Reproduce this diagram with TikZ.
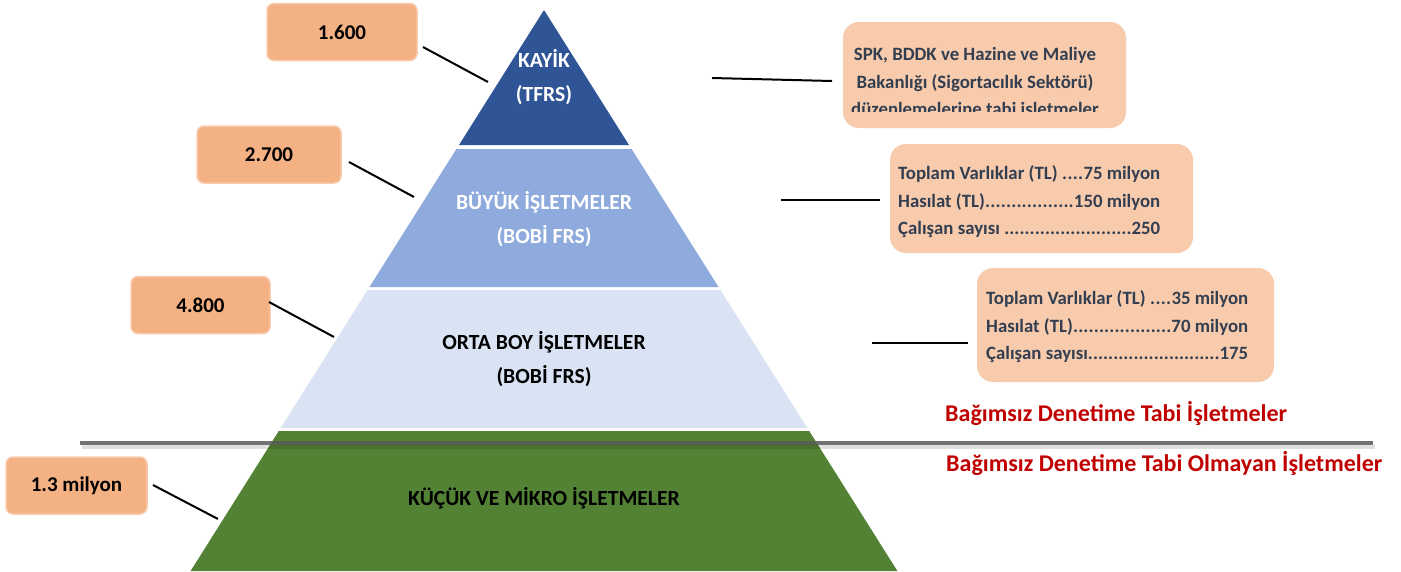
\documentclass[tikz,border=0pt]{standalone}
\usepackage{fontspec}
\setmainfont{Carlito}
\definecolor{kayik}{HTML}{2F5597}
\definecolor{buyuk}{HTML}{8FAADC}
\definecolor{orta}{HTML}{DAE3F3}
\definecolor{kucuk}{HTML}{548235}
\definecolor{sayi}{HTML}{F4B183}
\definecolor{sayikenar}{HTML}{F8CBAD}
\definecolor{bilgi}{HTML}{F8CBAD}
\definecolor{bilgimetin}{HTML}{333F50}
\definecolor{kirmizi}{HTML}{C00000}
\definecolor{ayrac}{HTML}{595959}
\newcommand{\satir}[3]{\hbox to #1{#2\xleaders\hbox{.}\hfill#3}}
\begin{document}
\begin{tikzpicture}[x=1pt,y=-1pt,
  sayikutu/.style={draw=sayikenar,line width=1.5pt,fill=sayi,rounded corners=7pt,minimum height=57pt,font=\fontsize{21}{25}\selectfont\bfseries},
  bilgikutu/.style={fill=bilgi,rounded corners=16pt},
  katyazi/.style={align=center,inner sep=0pt,font=\fontsize{21.6}{34}\selectfont\bfseries},
  bilgiyazi/.style={align=left,inner sep=0pt,text=bilgimetin,font=\fontsize{18.8}{27.5}\selectfont\bfseries},
  kirmiziyazi/.style={anchor=west,inner sep=0pt,text=kirmizi,font=\fontsize{24}{28}\selectfont\bfseries},
  baglanti/.style={line width=2pt}]
\useasboundingbox (0,0) rectangle (1401,571);
%piramit
\fill[kayik] (544,10) -- (629,145) -- (459,145) -- cycle;
\fill[buyuk] (456.4,149) -- (631.6,149) -- (718.5,287) -- (369.5,287) -- cycle;
\fill[orta] (367.6,290) -- (720.4,290) -- (807.3,428) -- (280.7,428) -- cycle;
\fill[kucuk] (278.8,431) -- (809.2,431) -- (897.4,571) -- (190.6,571) -- cycle;
\node[katyazi,text=white] (kayik) at (544,77) {KAYİK\\(TFRS)};
\node[katyazi,text=white] (buyuk) at (544,219) {BÜYÜK İŞLETMELER\\(BOBİ FRS)};
\node[katyazi] (orta) at (544,359) {ORTA BOY İŞLETMELER\\(BOBİ FRS)};
\node[katyazi] (kucuk) at (544,498) {KÜÇÜK VE MİKRO İŞLETMELER};
%ayrac cizgisi
\draw[line width=4pt,black,draw opacity=0.12] (82,447) -- (1375,447);
\draw[line width=4pt,ayrac,draw opacity=0.85] (80,443) -- (1373,443);
%sayilar
\node[sayikutu,minimum width=150pt] (n1600) at (342,32) {1.600};
\node[sayikutu,minimum width=144pt] (n2700) at (269,154.5) {2.700};
\node[sayikutu,minimum width=139pt] (n4800) at (200.5,305) {4.800};
\node[sayikutu,minimum width=141pt] (n13) at (76.5,485.5) {1.3 milyon};
\coordinate (a1600) at (423,47);  \coordinate (p1600) at (488,82);
\coordinate (a2700) at (349,162); \coordinate (p2700) at (414,197);
\coordinate (a4800) at (269,302); \coordinate (p4800) at (334,337);
\coordinate (a13) at (153,485);   \coordinate (p13) at (218,519);
\draw[baglanti] (a1600) -- (p1600);
\draw[baglanti] (a2700) -- (p2700);
\draw[baglanti] (a4800) -- (p4800);
\draw[baglanti] (a13) -- (p13);
%bilgi kutulari
\node[bilgikutu,minimum width=283pt,minimum height=106pt] (bilgi1) at (984.5,75) {};
\node[bilgikutu,minimum width=303pt,minimum height=109pt] (bilgi2) at (1041.5,198.5) {};
\node[bilgikutu,minimum width=297pt,minimum height=114pt] (bilgi3) at (1125.5,325) {};
\begin{scope}
\clip (843,22) rectangle (1126,111);
\node[bilgiyazi,align=center] (metin1) at (975,83) {SPK, BDDK ve Hazine ve Maliye\\Bakanlığı (Sigortacılık Sektörü)\\düzenlemelerine tabi işletmeler};
\end{scope}
\node[bilgiyazi,anchor=west] (metin2) at (898,202) {\satir{262pt}{Toplam Varlıklar (TL) }{75 milyon}\\\satir{262pt}{Hasılat (TL)}{150 milyon}\\\satir{262pt}{Çalışan sayısı }{250}};
\node[bilgiyazi,anchor=west] (metin3) at (986,327) {\satir{262pt}{Toplam Varlıklar (TL) }{35 milyon}\\\satir{262pt}{Hasılat (TL)}{70 milyon}\\\satir{262pt}{Çalışan sayısı}{175}};
\coordinate (b1) at (712,78);  \coordinate (k1) at (832,81);
\coordinate (b2) at (781,200); \coordinate (k2) at (880,200);
\coordinate (b3) at (872,343); \coordinate (k3) at (968,343);
\draw[baglanti] (b1) -- (k1);
\draw[baglanti] (b2) -- (k2);
\draw[baglanti] (b3) -- (k3);
%denetim
\node[kirmiziyazi] (tabi) at (945,413) {Bağımsız Denetime Tabi İşletmeler};
\node[kirmiziyazi] (tabidegil) at (946,463) {Bağımsız Denetime Tabi Olmayan İşletmeler};
\end{tikzpicture}
\end{document}
